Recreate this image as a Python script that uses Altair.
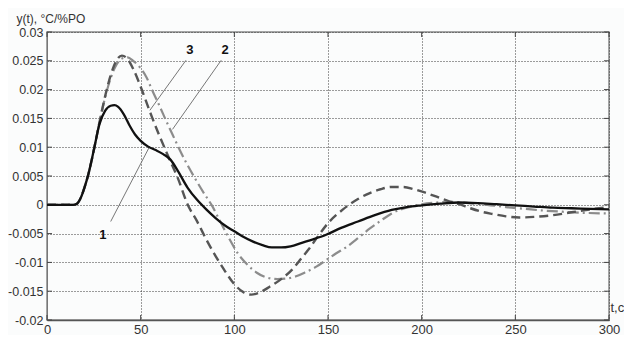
import altair as alt
import pandas as pd

# ---- data ----
t_1 = [0, 14, 16, 18, 20, 22, 25, 28, 31, 34, 36, 38, 41, 44, 47, 50, 54, 58, 62, 66, 70, 75, 80, 85, 90,
       95, 100, 105, 110, 115, 120, 125, 130, 136, 142, 149, 157, 166, 175, 184, 192, 200, 210, 220,
       230, 240, 250, 260, 270, 280, 290, 300]
y_1 = [0, 0, 0.0002, 0.0012, 0.003, 0.0052, 0.0095, 0.014, 0.0163, 0.0172, 0.0173, 0.0170, 0.0157,
       0.0138, 0.0122, 0.0111, 0.0101, 0.0095, 0.0088, 0.0078, 0.0058, 0.0030, 0.0009, -0.0008,
       -0.0023, -0.0036, -0.0046, -0.0056, -0.0064, -0.0070, -0.0074, -0.0074, -0.0072, -0.0066,
       -0.0060, -0.0052, -0.0040, -0.0029, -0.0018, -0.0009, -0.0004, -0.0001, 0.0002, 0.0004,
       0.0003, 0.0001, -0.0001, -0.0003, -0.0005, -0.0006, -0.0007, -0.0008]

t_2 = [0, 14, 16, 18, 20, 22, 25, 28, 31, 34, 37, 40, 43, 46, 50, 53, 56, 60, 64, 67, 70, 74, 79, 84, 88,
       92, 97, 102, 107, 112, 117, 123, 128, 133, 138, 144, 149, 154, 160, 166, 172, 178, 184, 192,
       200, 208, 216, 225, 235, 245, 255, 265, 275, 287, 300]
y_2 = [0, 0, 0.0002, 0.0012, 0.003, 0.0052, 0.0095, 0.0143, 0.0186, 0.0220, 0.0243, 0.0254, 0.0256,
       0.0250, 0.0237, 0.0222, 0.0200, 0.0172, 0.0143, 0.0122, 0.0101, 0.0075, 0.0046, 0.0019,
       -0.0001, -0.0026, -0.0057, -0.0085, -0.0104, -0.0118, -0.0126, -0.0129, -0.0128, -0.0124,
       -0.0117, -0.0107, -0.0096, -0.0085, -0.0073, -0.0058, -0.0042, -0.0028, -0.0015, -0.0005,
       0.0001, 0.0004, 0.0005, 0.0003, 0.0000, -0.0004, -0.0007, -0.0010, -0.0012, -0.0014, -0.0015]

t_3 = [0, 14, 16, 18, 20, 22, 25, 28, 31, 34, 37, 40, 43, 46, 50, 55, 60, 65, 70, 75, 80, 85, 90, 95,
       100, 105, 109, 113, 119, 125, 131, 136, 140, 145, 150, 158, 166, 172, 178, 184, 190, 196, 202,
       208, 214, 220, 226, 232, 238, 245, 252, 260, 270, 280, 290, 300]
y_3 = [0, 0, 0.0002, 0.0012, 0.003, 0.0052, 0.0095, 0.0143, 0.0188, 0.0225, 0.0250, 0.0259, 0.0253,
       0.0236, 0.0205, 0.0161, 0.0120, 0.0082, 0.0045, 0.0001, -0.0028, -0.0060, -0.0089, -0.0115,
       -0.0138, -0.0152, -0.0156, -0.0153, -0.0142, -0.0129, -0.0112, -0.0092, -0.0076, -0.0053,
       -0.0032, -0.0008, 0.0010, 0.0020, 0.0027, 0.0031, 0.0031, 0.0027, 0.0021, 0.0014, 0.0007,
       0.0001, -0.0006, -0.0012, -0.0016, -0.0020, -0.0022, -0.0021, -0.0018, -0.0013, -0.0008, -0.0004]

# curve labels and leader lines (data coordinates)
label_text = ["1", "2", "3"]
label_t = [29.8, 95.1, 76.3]
label_y = [-0.0052, 0.0268, 0.0268]
leader_t = [34, 93, 74.2]
leader_y = [-0.0029, 0.0251, 0.0251]
leader_t2 = [54.9, 67, 54.9]
leader_y2 = [0.0102, 0.0131, 0.0164]

x_ticks = [0, 50, 100, 150, 200, 250, 300]
y_ticks = [-0.02, -0.015, -0.01, -0.005, 0, 0.005, 0.01, 0.015, 0.02, 0.025, 0.03]

W, H = 562, 288
FONT = "Liberation Sans"

xs = alt.Scale(domain=[0, 300], nice=False, zero=False)
ys = alt.Scale(domain=[-0.02, 0.03], nice=False, zero=False)

x_axis = alt.Axis(values=x_ticks, title="t,c", grid=True, gridDash=[1, 2], gridColor="#3a3a3a",
                  gridWidth=1, ticks=False, tickSize=0, domain=True, domainColor="#555",
                  domainWidth=1.5, labelFont=FONT, labelFontSize=13, labelColor="#333",
                  labelPadding=3, labelFlush=False, titleFont=FONT, titleFontSize=13,
                  titleFontWeight="normal", titleColor="#333", titleX=W + 1, titleY=-9,
                  titleAlign="left", titleBaseline="alphabetic")
y_axis = alt.Axis(values=y_ticks, title="y(t), °C/%PO",
                  labelExpr="datum.value < 0 ? '-' + format(-datum.value, '~g') : format(datum.value, '~g')",
                  grid=True, gridDash=[1, 2],
                  gridColor="#3a3a3a", gridWidth=1, ticks=False, tickSize=0, domain=True,
                  domainColor="#777", labelFont=FONT, labelFontSize=12.5, labelColor="#333",
                  labelPadding=4, labelFlush=False, titleFont=FONT, titleFontSize=12,
                  titleFontWeight="normal", titleColor="#333", titleAngle=0, titleX=-31,
                  titleY=-10, titleAlign="left", titleBaseline="alphabetic")

def curve(t, y, color, width, dash=None):
    df = pd.DataFrame({"t": t, "y": y})
    kw = dict(color=color, strokeWidth=width, interpolate="monotone")
    if dash:
        kw["strokeDash"] = dash
    return alt.Chart(df).mark_line(**kw).encode(
        x=alt.X("t:Q", scale=xs, axis=x_axis),
        y=alt.Y("y:Q", scale=ys, axis=y_axis),
    )

c2 = curve(t_2, y_2, "#8c8c8c", 2.2, [11, 4, 2, 4])
c3 = curve(t_3, y_3, "#555555", 2.4, [9, 5])
c1 = curve(t_1, y_1, "#111111", 2.3)

lead_df = pd.DataFrame({"t": leader_t, "y": leader_y, "t2": leader_t2, "y2": leader_y2})
leaders = alt.Chart(lead_df).mark_rule(color="#777", strokeWidth=1).encode(
    x=alt.X("t:Q", scale=xs, axis=x_axis), y=alt.Y("y:Q", scale=ys, axis=y_axis),
    x2="t2:Q", y2="y2:Q")

lab_df = pd.DataFrame({"t": label_t, "y": label_y, "label": label_text})
labels = alt.Chart(lab_df).mark_text(font=FONT, fontSize=13, fontWeight="bold", color="#111",
                                     baseline="middle", align="center").encode(
    x=alt.X("t:Q", scale=xs, axis=x_axis), y=alt.Y("y:Q", scale=ys, axis=y_axis), text="label:N")

xt_df = pd.DataFrame({"t": x_ticks})
yt_df = pd.DataFrame({"y": y_ticks})
tick_style = dict(color="#444", strokeWidth=1)
top_ticks = alt.Chart(xt_df).mark_rule(**tick_style).encode(
    x=alt.X("t:Q", scale=xs, axis=x_axis), y=alt.value(0), y2=alt.value(5))
bot_ticks = alt.Chart(xt_df).mark_rule(**tick_style).encode(
    x=alt.X("t:Q", scale=xs, axis=x_axis), y=alt.value(H), y2=alt.value(H - 5))
left_ticks = alt.Chart(yt_df).mark_rule(**tick_style).encode(
    y=alt.Y("y:Q", scale=ys, axis=y_axis), x=alt.value(0), x2=alt.value(5))
right_ticks = alt.Chart(yt_df).mark_rule(**tick_style).encode(
    y=alt.Y("y:Q", scale=ys, axis=y_axis), x=alt.value(W), x2=alt.value(W - 5))

chart = alt.layer(
    top_ticks, bot_ticks, left_ticks, right_ticks, leaders, c2, c3, c1, labels
).properties(
    width=W, height=H,
    autosize=alt.AutoSizeParams(type="none"),
    padding={"left": 39, "top": 24, "right": 15, "bottom": 15},
    background="#fbfcfc",
).configure_view(stroke="#888", strokeWidth=1.5)

chart.save("out.html", embed_options={"renderer": "svg", "actions": False})
